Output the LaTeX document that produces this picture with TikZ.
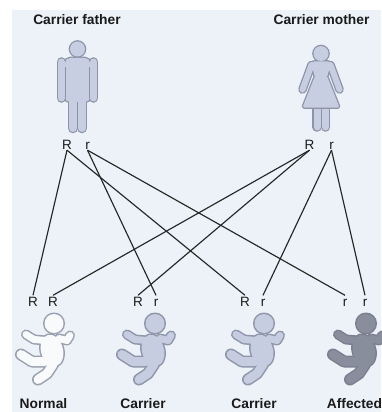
\documentclass[tikz,border=0pt]{standalone}
\usepackage{fontspec}
\setmainfont{Liberation Sans}
\definecolor{panel}{HTML}{EDF2F8}
\definecolor{figfill}{HTML}{C8CEE2}
\definecolor{figline}{HTML}{8D94A8}
\definecolor{normalfill}{HTML}{F9FAFC}
\definecolor{normalline}{HTML}{9AA0B0}
\definecolor{carrierfill}{HTML}{C6CDE1}
\definecolor{carrierline}{HTML}{8F96AA}
\definecolor{affectedfill}{HTML}{888E9C}
\definecolor{affectedline}{HTML}{7A808F}
\definecolor{linecol}{HTML}{262626}
\definecolor{textcol}{HTML}{1A1A1A}
\tikzset{
  title/.style={font=\bfseries\fontsize{13.8}{15}\selectfont, text=textcol, anchor=base, inner sep=0pt},
  allele/.style={font=\fontsize{13.5}{15}\selectfont, text=textcol, anchor=base, inner sep=1pt,
                 text height=10pt, text depth=0pt},
  cross/.style={draw=linecol, line width=1.15pt},
  rim/.style={draw=#1, fill=#1, line cap=round, line join=round},
  skin/.style={draw=#1, fill=#1, line cap=round, line join=round},
  % crawling baby: outline layer first, then the fill layer on top
  pics/baby/.style 2 args={code={
    \begin{scope}[rim=#2]
      \filldraw[line width=3pt] (0,0) circle[radius=9.5];
      \filldraw[line width=3pt] (-2,27) circle[x radius=11, y radius=16, rotate=15];
      \draw[line width=10pt] (5,15) -- (13,17) -- (16,12);
      \draw[line width=10pt] (-8,17) -- (-20,16) -- (-28,11);
      \draw[line width=12pt] (-9,38) -- (-22,38) -- (-33,31);
      \draw[line width=12pt] (-1,41) -- (-7,50) -- (-16,56);
    \end{scope}
    \begin{scope}[skin=#1]
      \fill (0,0) circle[radius=9.5];
      \fill (-2,27) circle[x radius=11, y radius=16, rotate=15];
      \draw[line width=7pt] (5,15) -- (13,17) -- (16,12);
      \draw[line width=7pt] (-8,17) -- (-20,16) -- (-28,11);
      \draw[line width=9pt] (-9,38) -- (-22,38) -- (-33,31);
      \draw[line width=9pt] (-1,41) -- (-7,50) -- (-16,56);
    \end{scope}
  }},
}
\begin{document}
\begin{tikzpicture}[x=1pt, y=-1pt]
\useasboundingbox (0,0) rectangle (381,412);
\fill[panel] (12,10) rectangle (381,412);

% father figure
\begin{scope}[rim=figline]
  \filldraw[line width=2.6pt] (77.5,49) circle[radius=7.5];
  \filldraw[line width=2.6pt, rounded corners=5pt] (65,58) rectangle (90,102);
  \draw[line width=9.6pt] (61.5,62) -- (61.5,98);
  \draw[line width=9.6pt] (93.5,62) -- (93.5,98);
  \draw[line width=10.6pt] (73,100) -- (73,128);
  \draw[line width=10.6pt] (82,100) -- (82,128);
\end{scope}
\begin{scope}[skin=figfill]
  \fill (77.5,49) circle[radius=7.5];
  \fill[rounded corners=5pt] (65,58) rectangle (90,102);
  \draw[line width=7pt] (61.5,62) -- (61.5,98);
  \draw[line width=7pt] (93.5,62) -- (93.5,98);
  \draw[line width=8pt] (73,100) -- (73,128);
  \draw[line width=8pt] (82,100) -- (82,128);
\end{scope}
\draw[figline, line width=1.2pt] (65.2,67) -- (65.2,98) (89.8,67) -- (89.8,98);

% mother figure: legs, then dress, arms and head
\begin{scope}[rim=figline]
  \draw[line width=9.6pt] (317,106) -- (317,127);
  \draw[line width=9.6pt] (325.5,106) -- (325.5,127);
\end{scope}
\begin{scope}[skin=figfill]
  \draw[line width=7pt] (317,106) -- (317,127);
  \draw[line width=7pt] (325.5,106) -- (325.5,127);
\end{scope}
\begin{scope}[rim=figline]
  \filldraw[line width=2.6pt] (321,53.5) circle[radius=7.5];
  \filldraw[line width=2.6pt, rounded corners=3pt] (311,61.5) -- (331,61.5) -- (327,78) -- (315,78) -- cycle;
  \filldraw[line width=2.6pt, rounded corners=1.5pt] (315,76) -- (327,76) -- (339.5,107.5) -- (302.5,107.5) -- cycle;
  \draw[line width=8.6pt] (311.5,65) -- (302.5,89.5);
  \draw[line width=8.6pt] (330.5,65) -- (339.5,89.5);
\end{scope}
\begin{scope}[skin=figfill]
  \fill (321,53.5) circle[radius=7.5];
  \fill[rounded corners=3pt] (311,61.5) -- (331,61.5) -- (327,78) -- (315,78) -- cycle;
  \fill[rounded corners=1.5pt] (315,76) -- (327,76) -- (339.5,107.5) -- (302.5,107.5) -- cycle;
  \draw[line width=6pt] (311.5,65) -- (302.5,89.5);
  \draw[line width=6pt] (330.5,65) -- (339.5,89.5);
\end{scope}

% children
\pic at (54,323.5) {baby={normalfill}{normalline}};
\pic at (155,323.5) {baby={carrierfill}{carrierline}};
\pic at (264,323.5) {baby={carrierfill}{carrierline}};
\pic at (366,323.5) {baby={affectedfill}{affectedline}};

% titles
\node[title] (tf) at (77,25) {Carrier father};
\node[title] (tm) at (321.5,25) {Carrier mother};

% parental alleles
\node[allele] (fR) at (67,149) {R};
\node[allele] (fr) at (87.5,149) {r};
\node[allele] (mR) at (309.5,149) {R};
\node[allele] (mr) at (331.5,149) {r};

% offspring alleles
\node[allele] (aR1) at (33,306.5) {R};
\node[allele] (aR2) at (53,306.5) {R};
\node[allele] (bR)  at (138,306.5) {R};
\node[allele] (br)  at (156,306.5) {r};
\node[allele] (cR)  at (245,306.5) {R};
\node[allele] (cr)  at (263,306.5) {r};
\node[allele] (dr1) at (345,306.5) {r};
\node[allele] (dr2) at (365,306.5) {r};

% inheritance lines
\draw[cross] (fR.south) -- (aR1.north);
\draw[cross] (fR.south) -- (cR.north);
\draw[cross] (fr.south) -- (br.north);
\draw[cross] (fr.south) -- (dr1.north);
\draw[cross] (mR.south) -- (aR2.north);
\draw[cross] (mR.south) -- (bR.north);
\draw[cross] (mr.south) -- (cr.north);
\draw[cross] (mr.south) -- (dr2.north);

% phenotype labels
\node[title] (ln) at (43.5,408) {Normal};
\node[title] (lc1) at (143,408) {Carrier};
\node[title] (lc2) at (254,408) {Carrier};
\node[title] (la) at (354.5,408) {Affected};
\end{tikzpicture}
\end{document}
